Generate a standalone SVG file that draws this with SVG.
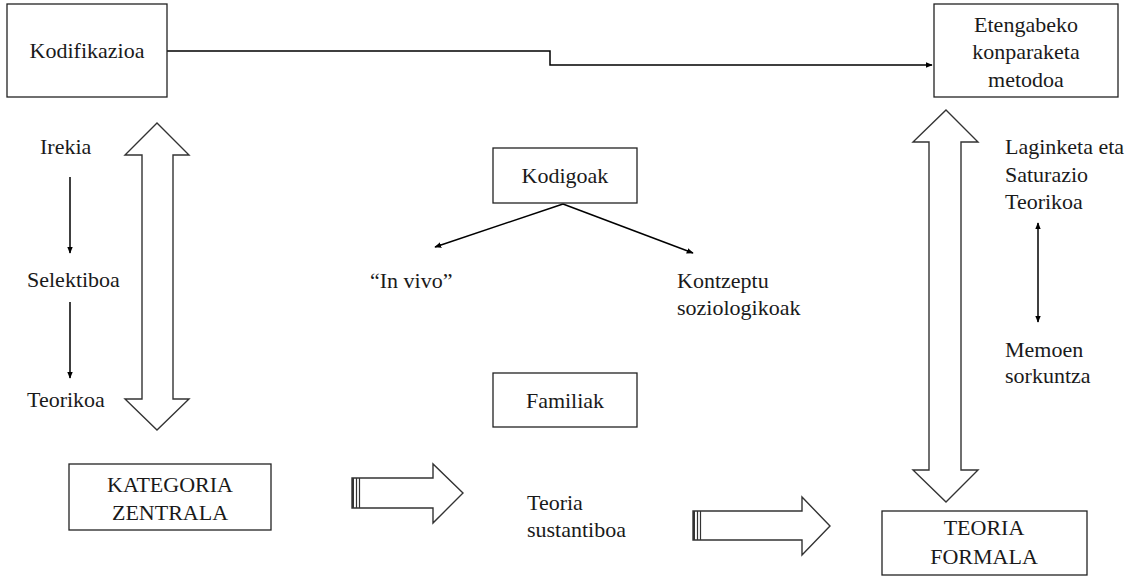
<svg xmlns="http://www.w3.org/2000/svg" width="1131" height="578" viewBox="0 0 1131 578">
<style>
.box{fill:#fff;stroke:#222;stroke-width:1.3}
.blk{fill:#fff;stroke:#333;stroke-width:1.4}
.t{font-family:'Liberation Serif','Times New Roman',serif;font-size:22px;fill:#1a1a1a}
.c{text-anchor:middle}
.ln{fill:none;stroke:#000;stroke-width:1.5}
</style>
<defs>
<marker id="ah" viewBox="0 0 10 10" refX="9" refY="5" markerWidth="7" markerHeight="7" orient="auto-start-reverse" markerUnits="userSpaceOnUse">
<path d="M0,1 L10,5 L0,9 Z" fill="#000"/>
</marker>
</defs>
<rect width="1131" height="578" fill="#fff"/>
<g id="connectors">
<path class="ln" d="M167,51 H550 V65 H932" marker-end="url(#ah)"/>
<line class="ln" x1="70" y1="177" x2="70" y2="253" marker-end="url(#ah)"/>
<line class="ln" x1="70" y1="302" x2="70" y2="378" marker-end="url(#ah)"/>
<line class="ln" x1="563" y1="204" x2="435" y2="247" marker-end="url(#ah)"/>
<line class="ln" x1="563" y1="204" x2="693" y2="253" marker-end="url(#ah)"/>
<line class="ln" x1="1038" y1="223" x2="1038" y2="322" marker-start="url(#ah)" marker-end="url(#ah)"/>
<path class="blk" d="M157,123 L189,155 H173 V399 H189 L157,430 L125,399 H142 V155 H125 Z"/>
<path class="blk" d="M946,110 L978,142 H961 V470 H978 L946,502 L913,470 H929 V142 H913 Z"/>
<g id="blockarrow1">
<path class="blk" d="M352,478 H433 V464 L463,493 L433,523 V508 H352 Z"/>
<line x1="353" y1="478" x2="353" y2="508" stroke="#333" stroke-width="2"/>
<line x1="356.5" y1="478" x2="356.5" y2="508" stroke="#333" stroke-width="1.2"/>
<line x1="359.5" y1="478" x2="359.5" y2="508" stroke="#333" stroke-width="1.2"/>
</g>
<g id="blockarrow2">
<path class="blk" d="M693,511 H802 V497 L830,526 L802,555 V540 H693 Z"/>
<line x1="694" y1="511" x2="694" y2="540" stroke="#333" stroke-width="2"/>
<line x1="697.5" y1="511" x2="697.5" y2="540" stroke="#333" stroke-width="1.2"/>
<line x1="700.5" y1="511" x2="700.5" y2="540" stroke="#333" stroke-width="1.2"/>
</g>
</g>
<g id="kodifikazioa">
<rect class="box" x="7" y="4" width="160" height="93"/>
<text class="t c" x="87" y="58">Kodifikazioa</text>
</g>
<g id="etengabeko">
<rect class="box" x="934" y="4" width="184" height="93"/>
<text class="t c" x="1026" y="32">Etengabeko</text>
<text class="t c" x="1026" y="59">konparaketa</text>
<text class="t c" x="1026" y="87">metodoa</text>
</g>
<g id="irekia"><text class="t" x="40" y="154">Irekia</text></g>
<g id="selektiboa"><text class="t" x="27" y="287">Selektiboa</text></g>
<g id="teorikoa"><text class="t" x="27" y="407">Teorikoa</text></g>
<g id="kodigoak">
<rect class="box" x="493" y="148" width="144" height="55"/>
<text class="t c" x="565" y="183">Kodigoak</text>
</g>
<g id="invivo"><text class="t" x="370" y="288">“In vivo”</text></g>
<g id="kontzeptu">
<text class="t" x="677" y="288">Kontzeptu</text>
<text class="t" x="677" y="315">soziologikoak</text>
</g>
<g id="familiak">
<rect class="box" x="493" y="373" width="144" height="54"/>
<text class="t c" x="565" y="408">Familiak</text>
</g>
<g id="kategoria">
<rect class="box" x="69" y="464" width="202" height="66"/>
<text class="t c" x="170" y="492">KATEGORIA</text>
<text class="t c" x="170" y="520">ZENTRALA</text>
</g>
<g id="teoriasustantiboa">
<text class="t" x="527" y="510">Teoria</text>
<text class="t" x="527" y="537">sustantiboa</text>
</g>
<g id="teoriaformala">
<rect class="box" x="882" y="511" width="205" height="64"/>
<text class="t c" x="984" y="535">TEORIA</text>
<text class="t c" x="984" y="564">FORMALA</text>
</g>
<g id="laginketa">
<text class="t" x="1005" y="154">Laginketa eta</text>
<text class="t" x="1005" y="182">Saturazio</text>
<text class="t" x="1005" y="209">Teorikoa</text>
</g>
<g id="memoen">
<text class="t" x="1005" y="357">Memoen</text>
<text class="t" x="1005" y="383">sorkuntza</text>
</g>
</svg>
